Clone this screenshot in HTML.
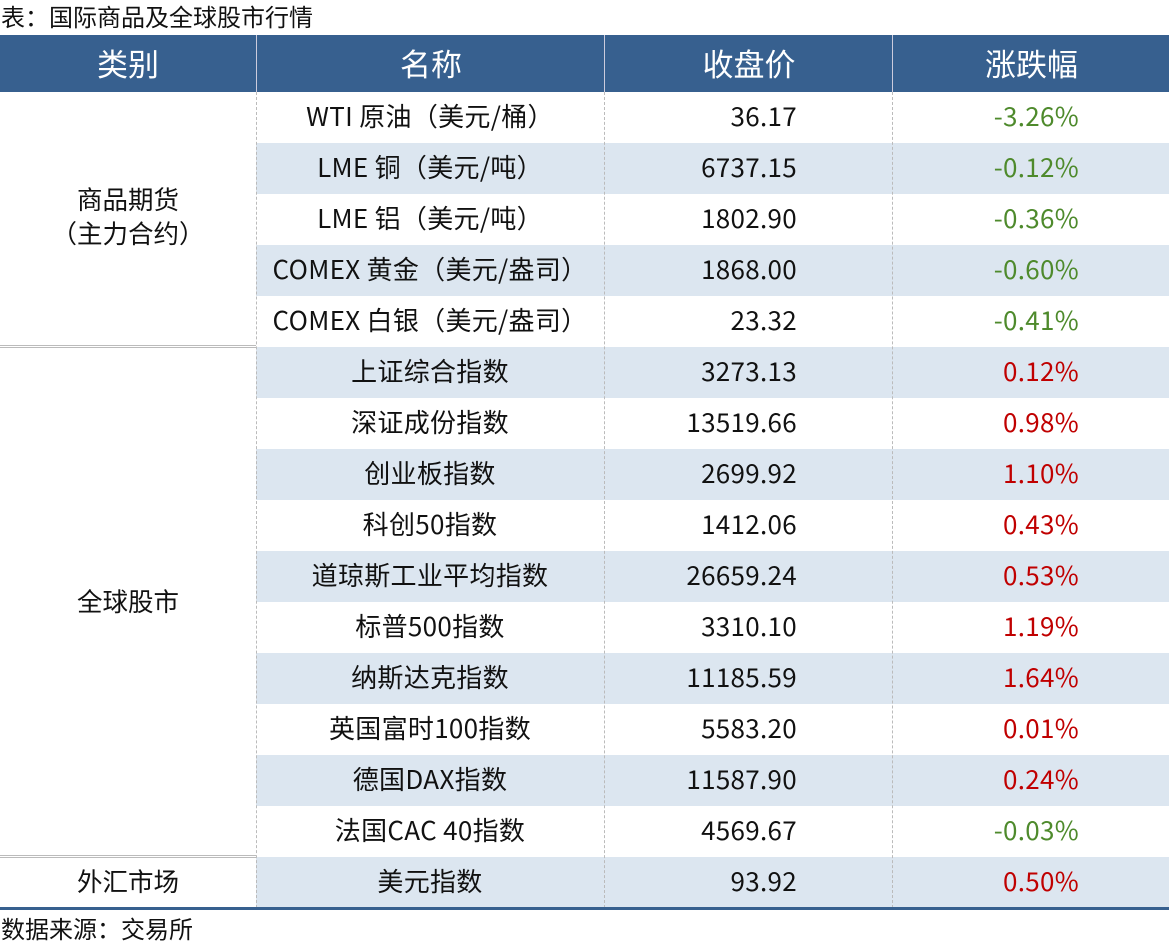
<!DOCTYPE html>
<html><head><meta charset="utf-8"><style>
body{margin:0;width:1171px;height:945px;background:#fff;font-family:"Noto Sans CJK SC","Liberation Sans",sans-serif;position:relative;overflow:hidden}
.t{position:absolute;left:1px;top:1px;font-size:24px;color:#111;line-height:30px}
.hdr{position:absolute;left:0;top:35px;width:1169px;height:57px;background:#37608f}
.hdr div{position:absolute;top:0;height:57px;line-height:55px;color:#fff;font-size:31px;text-align:center}
.row{position:absolute;left:256px;width:913px;height:51px;font-size:26px;letter-spacing:0.3px;color:#111;line-height:47px}
.row.s{background:#dce6f0}
.row span{position:absolute}
.n{left:0;width:348px;text-align:center}
.p{right:372px;text-align:right}
.c{right:90px;text-align:right}
.g{color:#4e8a2c}.r{color:#c00000}
.v{position:absolute;top:92px;height:816px;border-left:1px dashed #bbb}
.cat{position:absolute;left:0;width:256px;text-align:center;font-size:25.5px;color:#111;line-height:34px}
.sep{position:absolute;left:0;width:256px;height:0;border-top:3px double #bbb}
.f{position:absolute;left:1px;top:912px;font-size:24px;color:#111;line-height:32px}
</style></head><body>
<div class="t">表：国际商品及全球股市行情</div>
<div class="hdr">
<div style="left:0;width:256px">类别</div>
<div style="left:256px;width:348px;border-left:1px solid #ccd">名称</div>
<div style="left:604px;width:288px;border-left:1px solid #ccd">收盘价</div>
<div style="left:892px;width:277px;border-left:1px solid #ccd">涨跌幅</div>
</div>
<div class="row" style="top:92px"><span class="n">WTI 原油（美元/桶）</span><span class="p">36.17</span><span class="c g">-3.26%</span></div>
<div class="row s" style="top:143px"><span class="n">LME 铜（美元/吨）</span><span class="p">6737.15</span><span class="c g">-0.12%</span></div>
<div class="row" style="top:194px"><span class="n">LME 铝（美元/吨）</span><span class="p">1802.90</span><span class="c g">-0.36%</span></div>
<div class="row s" style="top:245px"><span class="n">COMEX 黄金（美元/盎司）</span><span class="p">1868.00</span><span class="c g">-0.60%</span></div>
<div class="row" style="top:296px"><span class="n">COMEX 白银（美元/盎司）</span><span class="p">23.32</span><span class="c g">-0.41%</span></div>
<div class="row s" style="top:347px"><span class="n">上证综合指数</span><span class="p">3273.13</span><span class="c r">0.12%</span></div>
<div class="row" style="top:398px"><span class="n">深证成份指数</span><span class="p">13519.66</span><span class="c r">0.98%</span></div>
<div class="row s" style="top:449px"><span class="n">创业板指数</span><span class="p">2699.92</span><span class="c r">1.10%</span></div>
<div class="row" style="top:500px"><span class="n">科创50指数</span><span class="p">1412.06</span><span class="c r">0.43%</span></div>
<div class="row s" style="top:551px"><span class="n">道琼斯工业平均指数</span><span class="p">26659.24</span><span class="c r">0.53%</span></div>
<div class="row" style="top:602px"><span class="n">标普500指数</span><span class="p">3310.10</span><span class="c r">1.19%</span></div>
<div class="row s" style="top:653px"><span class="n">纳斯达克指数</span><span class="p">11185.59</span><span class="c r">1.64%</span></div>
<div class="row" style="top:704px"><span class="n">英国富时100指数</span><span class="p">5583.20</span><span class="c r">0.01%</span></div>
<div class="row s" style="top:755px"><span class="n">德国DAX指数</span><span class="p">11587.90</span><span class="c r">0.24%</span></div>
<div class="row" style="top:806px"><span class="n">法国CAC 40指数</span><span class="p">4569.67</span><span class="c g">-0.03%</span></div>
<div class="row s" style="top:857px"><span class="n">美元指数</span><span class="p">93.92</span><span class="c r">0.50%</span></div>
<div class="v" style="left:256px"></div>
<div class="v" style="left:604px"></div>
<div class="v" style="left:892px"></div>
<div class="sep" style="top:345px"></div>
<div class="sep" style="top:855px"></div>
<div class="cat" style="top:182px">商品期货<br>（主力合约）</div>
<div class="cat" style="top:584px">全球股市</div>
<div class="cat" style="top:864px">外汇市场</div>
<div style="position:absolute;left:0;top:907px;width:1169px;height:3px;background:#37608f"></div>
<div class="f">数据来源：交易所</div>
</body></html>
